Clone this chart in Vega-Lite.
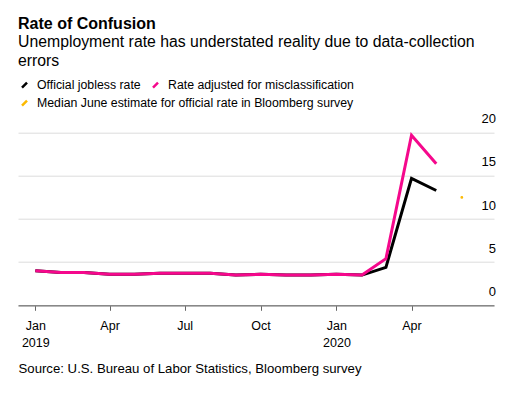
{
  "$schema": "https://vega.github.io/schema/vega-lite/v6.json",
  "width": 476,
  "height": 172.6,
  "autosize": {"type": "none"},
  "padding": {"left": 18, "top": 132.7, "right": 35, "bottom": 92.7},
  "background": "white",
  "config": {
    "font": "Liberation Sans",
    "view": {"stroke": null},
    "title": {"font": "Liberation Sans", "subtitleFont": "Liberation Sans"},
    "legend": {
      "title": null,
      "orient": "none",
      "direction": "horizontal",
      "symbolType": "M-0.5,0.5L0.5,-0.5",
      "symbolSize": 100,
      "symbolStrokeWidth": 2.5,
      "labelFontSize": 12.3,
      "labelColor": "#000000",
      "labelOffset": 6,
      "columnPadding": 7,
      "padding": 0,
      "labelLimit": 500
    }
  },
  "title": {
    "text": "Rate of Confusion",
    "subtitle": ["Unemployment rate has understated reality due to data-collection", "errors"],
    "anchor": "start",
    "frame": "group",
    "fontSize": 16,
    "fontWeight": "bold",
    "color": "#000000",
    "subtitleFontSize": 15.8,
    "subtitleColor": "#000000",
    "subtitleLineHeight": 18.5,
    "subtitlePadding": 3,
    "offset": 10
  },
  "data": {
    "values": [
      {"date": "2019-01-01", "series": "Official jobless rate", "rate": 4.0},
      {"date": "2019-02-01", "series": "Official jobless rate", "rate": 3.8},
      {"date": "2019-03-01", "series": "Official jobless rate", "rate": 3.8},
      {"date": "2019-04-01", "series": "Official jobless rate", "rate": 3.6},
      {"date": "2019-05-01", "series": "Official jobless rate", "rate": 3.6},
      {"date": "2019-06-01", "series": "Official jobless rate", "rate": 3.7},
      {"date": "2019-07-01", "series": "Official jobless rate", "rate": 3.7},
      {"date": "2019-08-01", "series": "Official jobless rate", "rate": 3.7},
      {"date": "2019-09-01", "series": "Official jobless rate", "rate": 3.5},
      {"date": "2019-10-01", "series": "Official jobless rate", "rate": 3.6},
      {"date": "2019-11-01", "series": "Official jobless rate", "rate": 3.5},
      {"date": "2019-12-01", "series": "Official jobless rate", "rate": 3.5},
      {"date": "2020-01-01", "series": "Official jobless rate", "rate": 3.6},
      {"date": "2020-02-01", "series": "Official jobless rate", "rate": 3.5},
      {"date": "2020-03-01", "series": "Official jobless rate", "rate": 4.4},
      {"date": "2020-04-01", "series": "Official jobless rate", "rate": 14.7},
      {"date": "2020-05-01", "series": "Official jobless rate", "rate": 13.3},
      {"date": "2019-01-01", "series": "Rate adjusted for misclassification", "rate": 4.0},
      {"date": "2019-02-01", "series": "Rate adjusted for misclassification", "rate": 3.8},
      {"date": "2019-03-01", "series": "Rate adjusted for misclassification", "rate": 3.8},
      {"date": "2019-04-01", "series": "Rate adjusted for misclassification", "rate": 3.6},
      {"date": "2019-05-01", "series": "Rate adjusted for misclassification", "rate": 3.6},
      {"date": "2019-06-01", "series": "Rate adjusted for misclassification", "rate": 3.7},
      {"date": "2019-07-01", "series": "Rate adjusted for misclassification", "rate": 3.7},
      {"date": "2019-08-01", "series": "Rate adjusted for misclassification", "rate": 3.7},
      {"date": "2019-09-01", "series": "Rate adjusted for misclassification", "rate": 3.5},
      {"date": "2019-10-01", "series": "Rate adjusted for misclassification", "rate": 3.6},
      {"date": "2019-11-01", "series": "Rate adjusted for misclassification", "rate": 3.5},
      {"date": "2019-12-01", "series": "Rate adjusted for misclassification", "rate": 3.5},
      {"date": "2020-01-01", "series": "Rate adjusted for misclassification", "rate": 3.6},
      {"date": "2020-02-01", "series": "Rate adjusted for misclassification", "rate": 3.5},
      {"date": "2020-03-01", "series": "Rate adjusted for misclassification", "rate": 5.4},
      {"date": "2020-04-01", "series": "Rate adjusted for misclassification", "rate": 19.7},
      {"date": "2020-05-01", "series": "Rate adjusted for misclassification", "rate": 16.4},
      {"date": "2020-06-01", "series": "Median June estimate for official rate in Bloomberg survey", "rate": 12.5}
    ]
  },
  "encoding": {
    "x": {
      "field": "date",
      "type": "temporal",
      "scale": {"domain": [{"year": 2018, "month": 12, "date": 11, "utc": true}, {"year": 2020, "month": 7, "date": 10, "utc": true}]},
      "axis": {
        "values": [
          {"year": 2019, "month": 1, "date": 1, "utc": true},
          {"year": 2019, "month": 4, "date": 1, "utc": true},
          {"year": 2019, "month": 7, "date": 1, "utc": true},
          {"year": 2019, "month": 10, "date": 1, "utc": true},
          {"year": 2020, "month": 1, "date": 1, "utc": true},
          {"year": 2020, "month": 4, "date": 1, "utc": true}
        ],
        "labelExpr": "utcmonth(datum.value) == 0 ? [utcFormat(datum.value, '%b'), utcFormat(datum.value, '%Y')] : utcFormat(datum.value, '%b')",
        "labelFontSize": 12.5,
        "labelColor": "#000000",
        "labelLineHeight": 17,
        "labelPadding": 9,
        "labelBaseline": "top",
        "grid": false,
        "domainColor": "#888888",
        "domainWidth": 1.5,
        "tickColor": "#666666",
        "tickSize": 5,
        "tickWidth": 1,
        "title": "Source: U.S. Bureau of Labor Statistics, Bloomberg survey",
        "titleAnchor": "start",
        "titleAlign": "left",
        "titleBaseline": "middle",
        "titleX": 0,
        "titleY": 63,
        "titleFontSize": 13.2,
        "titleFontWeight": "normal",
        "titleColor": "#000000"
      }
    },
    "y": {
      "field": "rate",
      "type": "quantitative",
      "scale": {"domain": [0, 20], "nice": false},
      "axis": {
        "orient": "right",
        "values": [0, 5, 10, 15, 20],
        "domain": false,
        "ticks": false,
        "tickSize": 0,
        "labelAlign": "right",
        "labelPadding": 1.5,
        "labelOffset": -14,
        "labelFontSize": 13,
        "labelColor": "#000000",
        "gridColor": "#dcdcdc",
        "gridWidth": 1,
        "title": null
      }
    }
  },
  "layer": [
    {
      "transform": [{"filter": "datum.series != 'Median June estimate for official rate in Bloomberg survey'"}],
      "mark": {"type": "line", "strokeWidth": 3, "strokeJoin": "miter"},
      "encoding": {
        "stroke": {
          "field": "series",
          "type": "nominal",
          "scale": {
            "domain": ["Official jobless rate", "Rate adjusted for misclassification"],
            "range": ["#000000", "#f5088c"]
          },
          "legend": {"legendX": 0, "legendY": -54}
        }
      }
    },
    {
      "transform": [{"filter": "datum.series == 'Median June estimate for official rate in Bloomberg survey'"}],
      "mark": {"type": "point", "filled": false, "size": 1.5, "strokeWidth": 1.6, "opacity": 1},
      "encoding": {
        "color": {
          "field": "series",
          "type": "nominal",
          "scale": {
            "domain": ["Median June estimate for official rate in Bloomberg survey"],
            "range": ["#fcb900"]
          },
          "legend": {
            "legendX": 0,
            "legendY": -36,
            "symbolType": "M-0.5,0.5L0.5,-0.5",
            "symbolSize": 100,
            "symbolStrokeWidth": 2.5,
            "encode": {
              "symbols": {"update": {
                "size": {"value": 100},
                "strokeWidth": {"value": 2.5}
              }}
            }
          }
        }
      }
    }
  ]
}
